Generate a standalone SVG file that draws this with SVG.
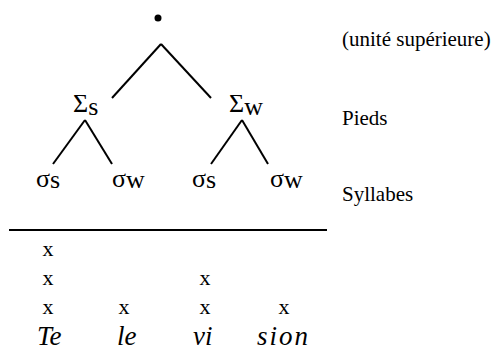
<svg xmlns="http://www.w3.org/2000/svg" width="494" height="354" viewBox="0 0 494 354">
<rect width="494" height="354" fill="#fff"/>
<circle id="root" cx="158" cy="18" r="3.5" fill="#000"/>
<g id="connectors" stroke="#000" stroke-width="2">
<line x1="161" y1="44" x2="112" y2="98"/>
<line x1="161" y1="44" x2="211" y2="98"/>
<line x1="85" y1="120" x2="53" y2="164"/>
<line x1="85" y1="120" x2="112" y2="164"/>
<line x1="242" y1="120" x2="211" y2="164"/>
<line x1="242" y1="120" x2="268" y2="164"/>
<line x1="9" y1="230" x2="327" y2="230"/>
</g>
<text id="foot-s" x="73" y="112" style="font-family:'Liberation Serif','Times New Roman',serif" font-size="26">Σ<tspan dy="3">s</tspan></text>
<text id="foot-w" x="229" y="112" style="font-family:'Liberation Serif','Times New Roman',serif" font-size="26">Σ<tspan dy="3">w</tspan></text>
<text id="syl1" x="36" y="187" style="font-family:'Liberation Serif','Times New Roman',serif" font-size="26">σ<tspan dy="1">s</tspan></text>
<text id="syl2" x="112" y="187" style="font-family:'Liberation Serif','Times New Roman',serif" font-size="26">σ<tspan dy="1">w</tspan></text>
<text id="syl3" x="192" y="187" style="font-family:'Liberation Serif','Times New Roman',serif" font-size="26">σ<tspan dy="1">s</tspan></text>
<text id="syl4" x="270" y="187" style="font-family:'Liberation Serif','Times New Roman',serif" font-size="26">σ<tspan dy="1">w</tspan></text>
<text x="342" y="46" style="font-family:'Liberation Serif','Times New Roman',serif" font-size="21">(unité supérieure)</text>
<text x="342" y="125" style="font-family:'Liberation Serif','Times New Roman',serif" font-size="21">Pieds</text>
<text x="342" y="201" style="font-family:'Liberation Serif','Times New Roman',serif" font-size="21">Syllabes</text>
<text x="48" y="256" text-anchor="middle" style="font-family:'Liberation Serif','Times New Roman',serif" font-size="22">x</text>
<text x="48" y="285" text-anchor="middle" style="font-family:'Liberation Serif','Times New Roman',serif" font-size="22">x</text>
<text x="205" y="285" text-anchor="middle" style="font-family:'Liberation Serif','Times New Roman',serif" font-size="22">x</text>
<text x="48" y="314" text-anchor="middle" style="font-family:'Liberation Serif','Times New Roman',serif" font-size="22">x</text>
<text x="124" y="314" text-anchor="middle" style="font-family:'Liberation Serif','Times New Roman',serif" font-size="22">x</text>
<text x="205" y="314" text-anchor="middle" style="font-family:'Liberation Serif','Times New Roman',serif" font-size="22">x</text>
<text x="284" y="314" text-anchor="middle" style="font-family:'Liberation Serif','Times New Roman',serif" font-size="22">x</text>
<text x="37" y="345" style="font-family:'Liberation Serif','Times New Roman',serif;font-style:italic" font-size="27">Te</text>
<text x="117" y="345" style="font-family:'Liberation Serif','Times New Roman',serif;font-style:italic" font-size="27">le</text>
<text x="193" y="345" style="font-family:'Liberation Serif','Times New Roman',serif;font-style:italic" font-size="27">vi</text>
<text x="257" y="345" style="font-family:'Liberation Serif','Times New Roman',serif;font-style:italic" font-size="27" letter-spacing="2">sion</text>
</svg>
